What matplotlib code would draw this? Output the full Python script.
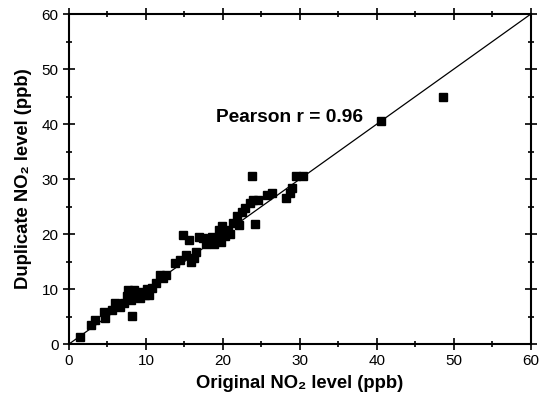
import numpy as np
import matplotlib.pyplot as plt
from matplotlib.ticker import MultipleLocator

plt.rcParams['font.family'] = ['Liberation Sans', 'DejaVu Sans']

# original vs duplicate NO2 (ppb)
original = [1.4, 2.9, 3.4, 4.5, 4.7, 5.6, 6.0, 6.6, 7.1, 7.5, 7.7, 8.1, 8.2, 8.4,
            8.7, 9.2, 9.5, 9.9, 10.1, 10.4, 10.8, 11.3, 11.8, 12.2, 12.6, 13.8,
            14.4, 14.8, 15.2, 15.6, 15.8, 16.2, 16.5, 16.9, 17.4, 17.8, 18.3,
            18.6, 18.8, 19.1, 19.5, 19.7, 19.9, 20.3, 20.6, 20.9, 21.3, 22.1,
            21.8, 22.5, 22.9, 23.5, 23.9, 23.8, 24.2, 24.5, 25.7, 26.4, 28.2,
            28.7, 29.0, 29.5, 30.4, 40.5, 48.6]
duplicate = [1.3, 3.5, 4.4, 5.8, 4.7, 6.2, 7.5, 6.7, 7.5, 8.7, 9.8, 8.0, 5.1, 9.8,
             8.9, 8.4, 9.5, 8.9, 10.0, 8.9, 10.2, 11.1, 12.5, 12.0, 12.5, 14.7,
             15.3, 19.8, 16.2, 18.9, 14.9, 15.6, 16.7, 19.5, 19.3, 18.2, 18.9,
             19.5, 18.2, 19.3, 20.7, 18.5, 21.5, 19.6, 20.7, 20.0, 22.0, 21.6,
             23.3, 24.0, 24.7, 25.6, 26.2, 30.5, 21.8, 26.2, 27.1, 27.5, 26.5,
             27.5, 28.4, 30.5, 30.5, 40.5, 44.9]
linha = [0, 60]

fig = plt.figure(figsize=(5.49, 4.12), dpi=100)
ax = fig.add_axes([0.1257, 0.165, 0.8413, 0.801])

ax.plot(linha, linha, color='black', lw=0.9)
ax.plot(original, duplicate, 's', color='black', ms=5.5)

ax.set_xlim(0, 60)
ax.set_ylim(0, 60)
ax.xaxis.set_major_locator(MultipleLocator(10))
ax.yaxis.set_major_locator(MultipleLocator(10))
ax.xaxis.set_minor_locator(MultipleLocator(5))
ax.yaxis.set_minor_locator(MultipleLocator(5))
ax.tick_params(which='both', direction='inout', top=True, right=True,
               labeltop=False, labelright=False, width=1.2, labelsize=11)
ax.tick_params(which='major', length=8)
ax.tick_params(which='minor', length=5)
for s in ax.spines.values():
    s.set_linewidth(1.5)

ax.text(19.1, 41.1, 'Pearson r = 0.96', fontsize=13.8, fontweight='bold',
        va='center', ha='left')

ax.set_xlabel('Original NO\u2082 level (ppb)', fontsize=13.3, fontweight='bold', labelpad=5)
ax.set_ylabel('Duplicate NO\u2082 level (ppb)', fontsize=13.3, fontweight='bold', labelpad=7)

fig.savefig('out.png')
